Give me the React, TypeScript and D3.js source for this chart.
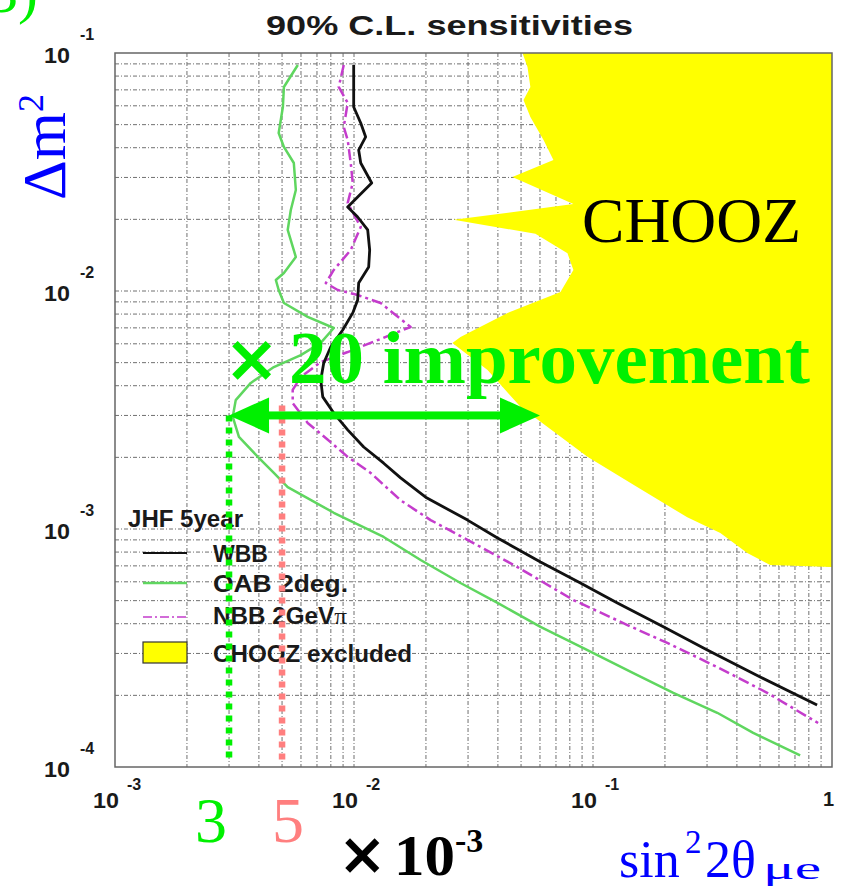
import React from "react";
import * as d3 from "d3";

const W = 845;
const H = 888;

// WBB 90% C.L. sensitivity contour (sin²2θμe, Δm² in eV²)
const wbbSin2 = [0.00997, 0.00997, 0.01067, 0.01119, 0.01046, 0.01067, 0.01186, 0.01036, 0.00941, 0.01036, 0.01141, 0.01163, 0.01152, 0.01046, 0.01036, 0.00988, 0.00897, 0.00799, 0.00747, 0.00726, 0.0074, 0.00823, 0.00941, 0.01098, 0.01331, 0.01567, 0.01994, 0.02986, 0.03987, 0.0603, 0.0886, 0.1265, 0.1969, 0.3007, 0.5005, 0.8662];
const wbbDm2 = [0.089, 0.0593, 0.0508, 0.0444, 0.0391, 0.0345, 0.02843, 0.02483, 0.02254, 0.02046, 0.01805, 0.01487, 0.01262, 0.0108, 0.00917, 0.00809, 0.00686, 0.00582, 0.00498, 0.00423, 0.00359, 0.00307, 0.00261, 0.00221, 0.00189, 0.00164, 0.00136, 0.00109, 0.000917, 0.000727, 0.000593, 0.000489, 0.000388, 0.00031, 0.000239, 0.000182];

// OAB 2deg. contour
const oabSin2 = [0.00582, 0.00509, 0.00504, 0.00484, 0.00509, 0.0056, 0.00571, 0.00544, 0.00528, 0.00571, 0.00509, 0.00471, 0.00484, 0.00509, 0.0064, 0.00823, 0.00726, 0.00599, 0.00462, 0.0037, 0.0032, 0.00311, 0.0033, 0.00396, 0.00462, 0.00528, 0.00823, 0.01331, 0.019, 0.0279, 0.03987, 0.0603, 0.0912, 0.1475, 0.2168, 0.331, 0.468, 0.7357];
const oabDm2 = [0.089, 0.072, 0.0593, 0.0461, 0.0403, 0.0345, 0.02657, 0.02189, 0.01805, 0.01389, 0.0119, 0.01112, 0.0101, 0.0089, 0.00778, 0.00699, 0.00605, 0.00538, 0.00479, 0.00411, 0.00348, 0.00296, 0.00244, 0.00201, 0.00172, 0.0015, 0.00117, 0.000926, 0.000741, 0.000593, 0.000489, 0.000388, 0.000316, 0.000248, 0.000205, 0.000169, 0.000139, 0.000112];

// NBB 2GeVπ contour
const nbbSin2 = [0.00906, 0.00863, 0.00941, 0.00906, 0.00941, 0.00969, 0.00988, 0.00941, 0.01067, 0.00969, 0.00823, 0.00762, 0.00855, 0.01036, 0.01293, 0.01725, 0.01256, 0.00941, 0.00726, 0.00599, 0.00554, 0.00554, 0.0064, 0.00777, 0.00941, 0.01174, 0.01567, 0.02092, 0.02986, 0.0483, 0.0828, 0.1393, 0.2046, 0.331, 0.5356, 0.8747];
const nbbDm2 = [0.089, 0.072, 0.0617, 0.0489, 0.0431, 0.0345, 0.02843, 0.02343, 0.01858, 0.01487, 0.01226, 0.0108, 0.0101, 0.00962, 0.0089, 0.00706, 0.00622, 0.00554, 0.00503, 0.00435, 0.00384, 0.00338, 0.00279, 0.00237, 0.00201, 0.00172, 0.00132, 0.00109, 0.0009, 0.000692, 0.000503, 0.000395, 0.000332, 0.000263, 0.000205, 0.000153];

// CHOOZ excluded region boundary (closed along the right edge)
const choozSin2 = [0.0507, 0.0532, 0.0547, 0.0512, 0.0547, 0.0621, 0.0683, 0.046, 0.0828, 0.0261, 0.0574, 0.0782, 0.0828, 0.0731, 0.0439, 0.0279, 0.0258, 0.0362, 0.0497, 0.0948, 0.153, 0.248, 0.341, 0.442, 0.551, 1.0, 1.0];
const choozDm2 = [0.1, 0.0873, 0.072, 0.0634, 0.0538, 0.0431, 0.0355, 0.0301, 0.0232, 0.0199, 0.0174, 0.0144, 0.01226, 0.0099, 0.00809, 0.00641, 0.00605, 0.00466, 0.00326, 0.00201, 0.0015, 0.00112, 0.000962, 0.000793, 0.000706, 0.000692, 0.1];

// axis decades
const xTickExps = [-3, -2, -1, 0];
const yTickExps = [-1, -2, -3, -4];

// best sensitivities (×10⁻³) and CHOOZ limit at the same Δm²
const oabBest = 3e-3;
const nbbBest = 5e-3;
const choozAtBest = 6e-2;
const bestDm2 = 3e-3;
const nbbMarkTopDm2 = 3.3e-3;

const legendItems = [
  { label: "WBB", kind: "wbb" },
  { label: "OAB 2deg.", kind: "oab" },
  { label: "NBB 2GeV", kind: "nbb" },
  { label: "CHOOZ excluded", kind: "chooz" },
];

const BLACK = "#111";
const GREEN = "#5fd65f";
const MAGENTA = "#c43ccc";
const YELLOW = "#ffff00";
const BRIGHT_GREEN = "#00f000";
const PINK = "#ff7f7f";
const BLUE = "#0000ff";

const zip = (a: number[], b: number[]) => a.map((v, i) => [v, b[i]] as [number, number]);

export default function App() {
  const x = d3.scaleLog().domain([1e-3, 1]).range([115, 832]);
  const y = d3.scaleLog().domain([1e-4, 1e-1]).range([767, 53]);
  const line = d3
    .line<[number, number]>()
    .x((d) => x(d[0]))
    .y((d) => y(d[1]));

  const gridX = d3
    .range(-3, 0)
    .flatMap((e) => d3.range(1, 10).map((m) => m * Math.pow(10, e)))
    .filter((v) => v > 1.0001e-3);
  const gridY = d3
    .range(-4, -1)
    .flatMap((e) => d3.range(1, 10).map((m) => m * Math.pow(10, e)))
    .filter((v) => v > 1.0001e-4);

  const [x0, x1] = x.range();
  const [y0, y1] = y.range();

  const sans = "'Liberation Sans', Arial, Helvetica, sans-serif";
  const serif = "'Liberation Serif', 'Times New Roman', serif";
  const crossFont = "'DejaVu Sans', sans-serif";

  const ay = y(bestDm2);
  const axL = x(oabBest);
  const axR = x(choozAtBest);
  const headL = 40;
  const headH = 18;

  const legendRows = [553, 583, 617, 652];
  const legendTextY = [562, 592, 624, 662];
  const legendTextLen = [55, 135, 134, 199];

  return (
    <svg
      width={W}
      height={H}
      viewBox={`0 0 ${W} ${H}`}
      style={{ position: "absolute", left: 0, top: 0, display: "block", background: "#fff" }}
    >
      <defs>
        <clipPath id="plotClip">
          <rect x={x0} y={y1} width={x1 - x0} height={y0 - y1} />
        </clipPath>
      </defs>
      <rect width={W} height={H} fill="#fff" />

      {/* title */}
      <text x={266} y={35} fontFamily={sans} fontWeight="bold" fontSize={28} fill="#1a1a1a" textLength={367} lengthAdjust="spacingAndGlyphs">
        90% C.L. sensitivities
      </text>

      {/* grid */}
      <g stroke="#707070" strokeWidth={1} strokeDasharray="4 2 1 2">
        {gridX.map((v, i) => (
          <line key={"gx" + i} x1={x(v)} x2={x(v)} y1={y1} y2={y0} />
        ))}
        {gridY.map((v, i) => (
          <line key={"gy" + i} x1={x0} x2={x1} y1={y(v)} y2={y(v)} />
        ))}
      </g>

      {/* CHOOZ excluded region */}
      <g clipPath="url(#plotClip)">
        <path d={line(zip(choozSin2, choozDm2)) + "Z"} fill={YELLOW} stroke="none" />
      </g>

      {/* frame */}
      <rect x={x0} y={y1} width={x1 - x0} height={y0 - y1} fill="none" stroke="#666" strokeWidth={1.5} />

      {/* sensitivity contours */}
      <g fill="none" strokeLinejoin="round" clipPath="url(#plotClip)">
        <path d={line(zip(oabSin2, oabDm2)) || ""} stroke={GREEN} strokeWidth={2.5} />
        <path d={line(zip(nbbSin2, nbbDm2)) || ""} stroke={MAGENTA} strokeWidth={2.5} strokeDasharray="11 4 3 4" />
        <path d={line(zip(wbbSin2, wbbDm2)) || ""} stroke={BLACK} strokeWidth={2.8} />
      </g>

      {/* tick labels */}
      <g fontFamily={sans} fill="#1a1a1a">
        {yTickExps.map((e) => {
          const py = y(Math.pow(10, e));
          return (
            <g key={"yt" + e}>
              <text x={70} y={py + 10} textAnchor="end" fontSize={22} fontWeight="bold" textLength={26} lengthAdjust="spacingAndGlyphs">
                10
              </text>
              <text x={80} y={py - 13} fontSize={16} fontWeight="bold">
                {"-" + Math.abs(e)}
              </text>
            </g>
          );
        })}
        {xTickExps.map((e) => {
          const px = x(Math.pow(10, e));
          if (e === 0) {
            return (
              <text key="xt0" x={px + 2} y={806} textAnchor="end" fontSize={20} fontWeight="bold">
                1
              </text>
            );
          }
          return (
            <g key={"xt" + e}>
              <text x={px + 4} y={808} textAnchor="end" fontSize={22} fontWeight="bold" textLength={26} lengthAdjust="spacingAndGlyphs">
                10
              </text>
              <text x={px + 12} y={790} fontSize={16} fontWeight="bold">
                {"-" + Math.abs(e)}
              </text>
            </g>
          );
        })}
      </g>

      {/* legend */}
      <g fontFamily={sans} fill="#1a1a1a" fontWeight="bold">
        <text x={128} y={527} fontSize={23} textLength={115} lengthAdjust="spacingAndGlyphs">
          JHF 5year
        </text>
        {legendItems.map((it, i) => {
          const ly = legendRows[i];
          let sample: React.ReactNode = null;
          if (it.kind === "wbb") sample = <line x1={143} x2={187} y1={ly} y2={ly} stroke={BLACK} strokeWidth={2} />;
          if (it.kind === "oab") sample = <line x1={143} x2={187} y1={ly} y2={ly} stroke={GREEN} strokeWidth={2.5} />;
          if (it.kind === "nbb")
            sample = <line x1={143} x2={187} y1={ly} y2={ly} stroke={MAGENTA} strokeWidth={1.5} strokeDasharray="9 3 2 3" />;
          if (it.kind === "chooz")
            sample = <rect x={143} y={642} width={44} height={21} fill={YELLOW} stroke="#333" strokeWidth={1.2} />;
          return (
            <g key={it.kind}>
              {sample}
              <text x={213} y={legendTextY[i]} fontSize={23} textLength={legendTextLen[i]} lengthAdjust="spacingAndGlyphs">
                {it.label}
                {it.kind === "nbb" ? (
                  <tspan fontFamily={serif} fontWeight="normal" fontSize={24}>
                    π
                  </tspan>
                ) : null}
              </text>
            </g>
          );
        })}
      </g>

      {/* sensitivity markers */}
      <line x1={x(nbbBest)} x2={x(nbbBest)} y1={y(nbbMarkTopDm2)} y2={y(1e-4) - 3} stroke={PINK} strokeWidth={6.5} strokeDasharray="6 6" />
      <line x1={axL} x2={axL} y1={ay} y2={y(1e-4) - 8} stroke={BRIGHT_GREEN} strokeWidth={6.5} strokeDasharray="6 6" />

      {/* ×20 arrow */}
      <g fill={BRIGHT_GREEN}>
        <rect x={axL + headL - 4} y={ay - 4} width={axR - axL - 2 * headL + 8} height={8} />
        <path d={`M${axL},${ay} L${axL + headL},${ay - headH} L${axL + headL},${ay + headH} Z`} />
        <path d={`M${axR},${ay} L${axR - headL},${ay - headH} L${axR - headL},${ay + headH} Z`} />
      </g>

      {/* annotations */}
      <text x={38} y={12} textAnchor="end" fontFamily={serif} fontSize={60} fill={BRIGHT_GREEN}>
        3)
      </text>
      <text transform="translate(65,200) rotate(-90)" fontFamily={serif} fontSize={62} fill={BLUE} textLength={106} lengthAdjust="spacingAndGlyphs">
        Δm
        <tspan fontSize={36} dy={-22}>
          2
        </tspan>
      </text>
      <text x={582} y={242} fontFamily={serif} fontSize={64} fill="#000" textLength={219} lengthAdjust="spacingAndGlyphs">
        CHOOZ
      </text>
      <text x={224} y={381} fontFamily={crossFont} fontWeight="bold" fontSize={66} fill={BRIGHT_GREEN}>
        ×
      </text>
      <text x={289} y={383} fontFamily={serif} fontWeight="bold" fontSize={75} fill={BRIGHT_GREEN} textLength={521} lengthAdjust="spacingAndGlyphs">
        20 improvement
      </text>
      <text x={195} y={842} fontFamily={serif} fontSize={64} fill={BRIGHT_GREEN}>
        3
      </text>
      <text x={272} y={842} fontFamily={serif} fontSize={64} fill={PINK}>
        5
      </text>
      <text x={338} y={874} fontFamily={crossFont} fontWeight="bold" fontSize={58} fill="#000">
        ×
      </text>
      <text x={394} y={875} fontFamily={serif} fontWeight="bold" fontSize={56} fill="#000" textLength={61} lengthAdjust="spacingAndGlyphs">
        10
      </text>
      <text x={455} y={852} fontFamily={serif} fontWeight="bold" fontSize={34} fill="#000">
        -3
      </text>
      <text fontFamily={serif} fill={BLUE}>
        <tspan x={619} y={877} fontSize={52}>
          sin
        </tspan>
        <tspan x={685} y={853} fontSize={33}>
          2
        </tspan>
        <tspan x={705} y={877} fontSize={52}>
          2θ
        </tspan>
      </text>
      <text x={763} y={879} fontFamily={serif} fontSize={31} fill={BLUE} textLength={58} lengthAdjust="spacingAndGlyphs">
        μe
      </text>
    </svg>
  );
}
